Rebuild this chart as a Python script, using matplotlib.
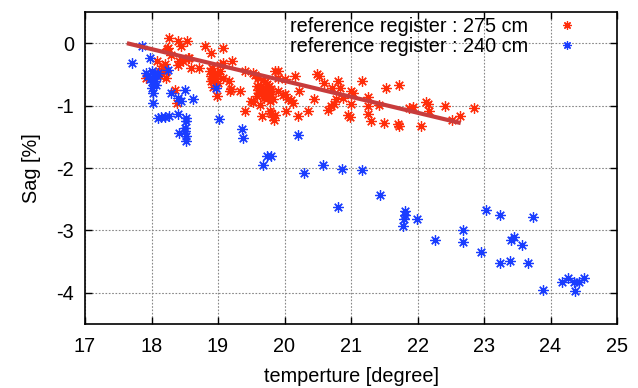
import matplotlib
matplotlib.use("Agg")
import matplotlib.pyplot as plt

plt.rcParams['font.family'] = ['Liberation Sans', 'DejaVu Sans']
plt.rcParams['axes.unicode_minus'] = False

# reference register : 275 cm
red_x = [17.92, 18.08, 18.12, 18.15, 18.17, 18.18, 18.22, 18.22, 18.23, 18.25,
         18.27, 18.30, 18.35, 18.38, 18.40, 18.40, 18.42, 18.45, 18.48, 18.53,
         18.55, 18.57, 18.60, 18.71, 18.80, 18.90, 18.88, 18.90, 18.92, 18.95,
         18.97, 18.98, 18.90, 19.00, 18.93, 19.03, 19.03, 19.08, 19.08, 19.08,
         19.17, 19.20, 19.18, 19.21, 19.33, 19.40, 19.41, 19.50, 19.53, 19.53,
         19.55, 19.58, 19.60, 19.60, 19.63, 19.65, 19.66, 19.67, 19.68, 19.70,
         19.72, 19.73, 19.75, 19.76, 19.78, 19.78, 19.80, 19.80, 19.82, 19.84,
         19.85, 19.86, 19.90, 19.90, 19.90, 19.97, 20.00, 20.00, 20.02, 20.05,
         20.10, 20.13, 20.16, 20.20, 20.22, 20.36, 20.45, 20.49, 20.52, 20.59,
         20.65, 20.70, 20.72, 20.74, 20.77, 20.80, 20.83, 20.88, 20.95, 20.98,
         21.00, 21.00, 21.03, 21.17, 21.25, 21.25, 21.26, 21.30, 21.42, 21.49,
         21.52, 21.70, 21.72, 21.72, 21.87, 21.93, 22.05, 22.13, 22.16, 22.18,
         22.41, 22.52, 22.64, 22.85,
         19.62, 19.64, 19.69, 19.71, 19.74, 19.77, 19.79, 19.66, 19.83, 19.58,
         18.93, 18.95, 18.99, 18.91, 18.13, 18.19, 18.20]
red_y = [-0.56, -0.29, -0.45, -0.48, -0.37, -0.39, -0.44, -0.56, -0.10, -0.08,
         0.09, -0.19, -0.75, -0.96, 0.04, -0.35, -0.29, -0.05, -0.29, 0.03,
         -0.24, -0.23, -0.39, -0.40, -0.04, -0.16, -0.45, -0.52, -0.61, -0.48,
         -0.67, -0.85, -0.61, -0.64, -0.55, -0.45, -0.35, -0.08, -0.32, -0.56,
         -0.60, -0.74, -0.77, -0.29, -0.77, -0.45, -1.08, -0.93, -0.48, -0.95,
         -0.51, -0.69, -0.56, -0.75, -0.99, -0.80, -1.17, -0.59, -0.72, -0.83,
         -0.77, -0.65, -0.70, -0.78, -0.93, -1.09, -0.74, -1.12, -1.18, -1.23,
         -1.15, -0.45, -0.45, -0.56, -0.77, -0.83, -0.58, -0.81, -1.08, -0.90,
         -0.91, -0.96, -0.53, -1.17, -0.76, -1.09, -0.90, -0.49, -0.53, -0.64,
         -1.07, -1.00, -0.72, -0.97, -0.90, -0.60, -0.72, -0.88, -1.15, -1.18,
         -0.77, -0.97, -0.80, -0.61, -0.87, -1.00, -1.13, -1.25, -0.99, -1.28,
         -0.71, -1.29, -1.32, -0.67, -1.04, -1.02, -1.32, -0.95, -0.98, -1.08,
         -1.01, -1.23, -1.16, -1.04,
         -0.82, -0.70, -0.88, -0.62, -0.85, -0.68, -0.81, -0.76, -0.90, -0.85,
         -0.70, -0.58, -0.50, -0.40, -0.52, -0.45, -0.33]

# reference register : 240 cm
blue_x = [17.70, 17.85, 17.98, 17.92, 17.95, 17.97, 18.00, 18.02, 18.04, 18.06,
          18.08, 18.10, 18.00, 18.25, 18.00, 18.07, 18.50, 18.30, 18.02, 18.62,
          18.44, 18.40, 18.02, 18.97, 18.40, 18.10, 18.15, 18.20, 18.26, 18.52,
          18.52, 18.50, 18.51, 18.52, 18.52, 18.42, 19.01, 19.36, 19.37, 19.73,
          19.80, 19.68, 20.20, 20.30, 20.58, 20.87, 20.81, 21.17, 21.44, 21.81,
          21.81, 21.80, 21.78, 21.99, 22.27, 22.68, 22.68, 22.95, 23.03, 23.24,
          23.24, 23.39, 23.41, 23.45, 23.57, 23.66, 23.73, 23.88, 24.17, 24.27,
          24.35, 24.37, 24.43, 24.50]
blue_y = [-0.31, -0.05, -0.24, -0.47, -0.52, -0.58, -0.45, -0.55, -0.50, -0.60,
          -0.53, -0.48, -0.62, -0.43, -0.72, -0.67, -0.75, -0.80, -0.80, -0.90,
          -0.92, -0.88, -0.96, -0.72, -1.13, -1.20, -1.19, -1.18, -1.17, -1.20,
          -1.25, -1.36, -1.41, -1.48, -1.57, -1.44, -1.22, -1.37, -1.52, -1.80,
          -1.80, -1.95, -1.47, -2.08, -1.95, -2.01, -2.63, -2.04, -2.44, -2.69,
          -2.75, -2.81, -2.93, -2.81, -3.16, -3.00, -3.18, -3.34, -2.67, -2.75,
          -3.53, -3.49, -3.15, -3.11, -3.24, -3.53, -2.79, -3.96, -3.83, -3.76,
          -3.83, -3.97, -3.83, -3.77]

# linear fit drawn over the 275 cm data
fit_x = [17.63, 22.65]
fit_y = [0.0, -1.28]

x_ticks = [17, 18, 19, 20, 21, 22, 23, 24, 25]
y_ticks = [-4, -3, -2, -1, 0]

red_col = '#ff2d0a'
blue_col = '#1a3dff'
star = (8, 2, 0)
fs = 14.3

fig = plt.figure(figsize=(6.38, 3.88), dpi=100)
ax = fig.add_axes([85 / 638, 1 - 324 / 388, 532 / 638, 312 / 388])

ax.plot(red_x, red_y, linestyle='none', marker=star, markersize=7.5,
        markeredgewidth=0.9, color=red_col, label='reference register : 275 cm')
ax.plot(blue_x, blue_y, linestyle='none', marker=star, markersize=7.5,
        markeredgewidth=0.9, color=blue_col, label='reference register : 240 cm')
ax.plot(fit_x, fit_y, color='#c83c3c', linewidth=3, solid_capstyle='butt')

ax.set_xlim(17, 25)
ax.set_ylim(-4.5, 0.5)
ax.set_xticks(x_ticks)
ax.set_yticks(y_ticks)
ax.grid(True, linestyle=(0, (1.5, 1.5)), color='#888888', linewidth=0.8)
ax.tick_params(direction='in', top=True, right=True, length=5, width=1,
               labelsize=fs)
ax.tick_params(axis='x', pad=9)
ax.tick_params(axis='y', pad=8)
for s in ax.spines.values():
    s.set_linewidth(1.2)

ax.set_xlabel('temperture [degree]', fontsize=fs, labelpad=8)
ax.set_ylabel('Sag [%]', fontsize=fs, labelpad=11)

ax.legend(loc='upper right', bbox_to_anchor=(0.925, 0.985), markerfirst=False,
          frameon=False, fontsize=fs, handlelength=1.0, handletextpad=1.46,
          borderpad=0, borderaxespad=0, labelspacing=0.05, markerscale=0.8)

fig.savefig('out.png', dpi=100)
